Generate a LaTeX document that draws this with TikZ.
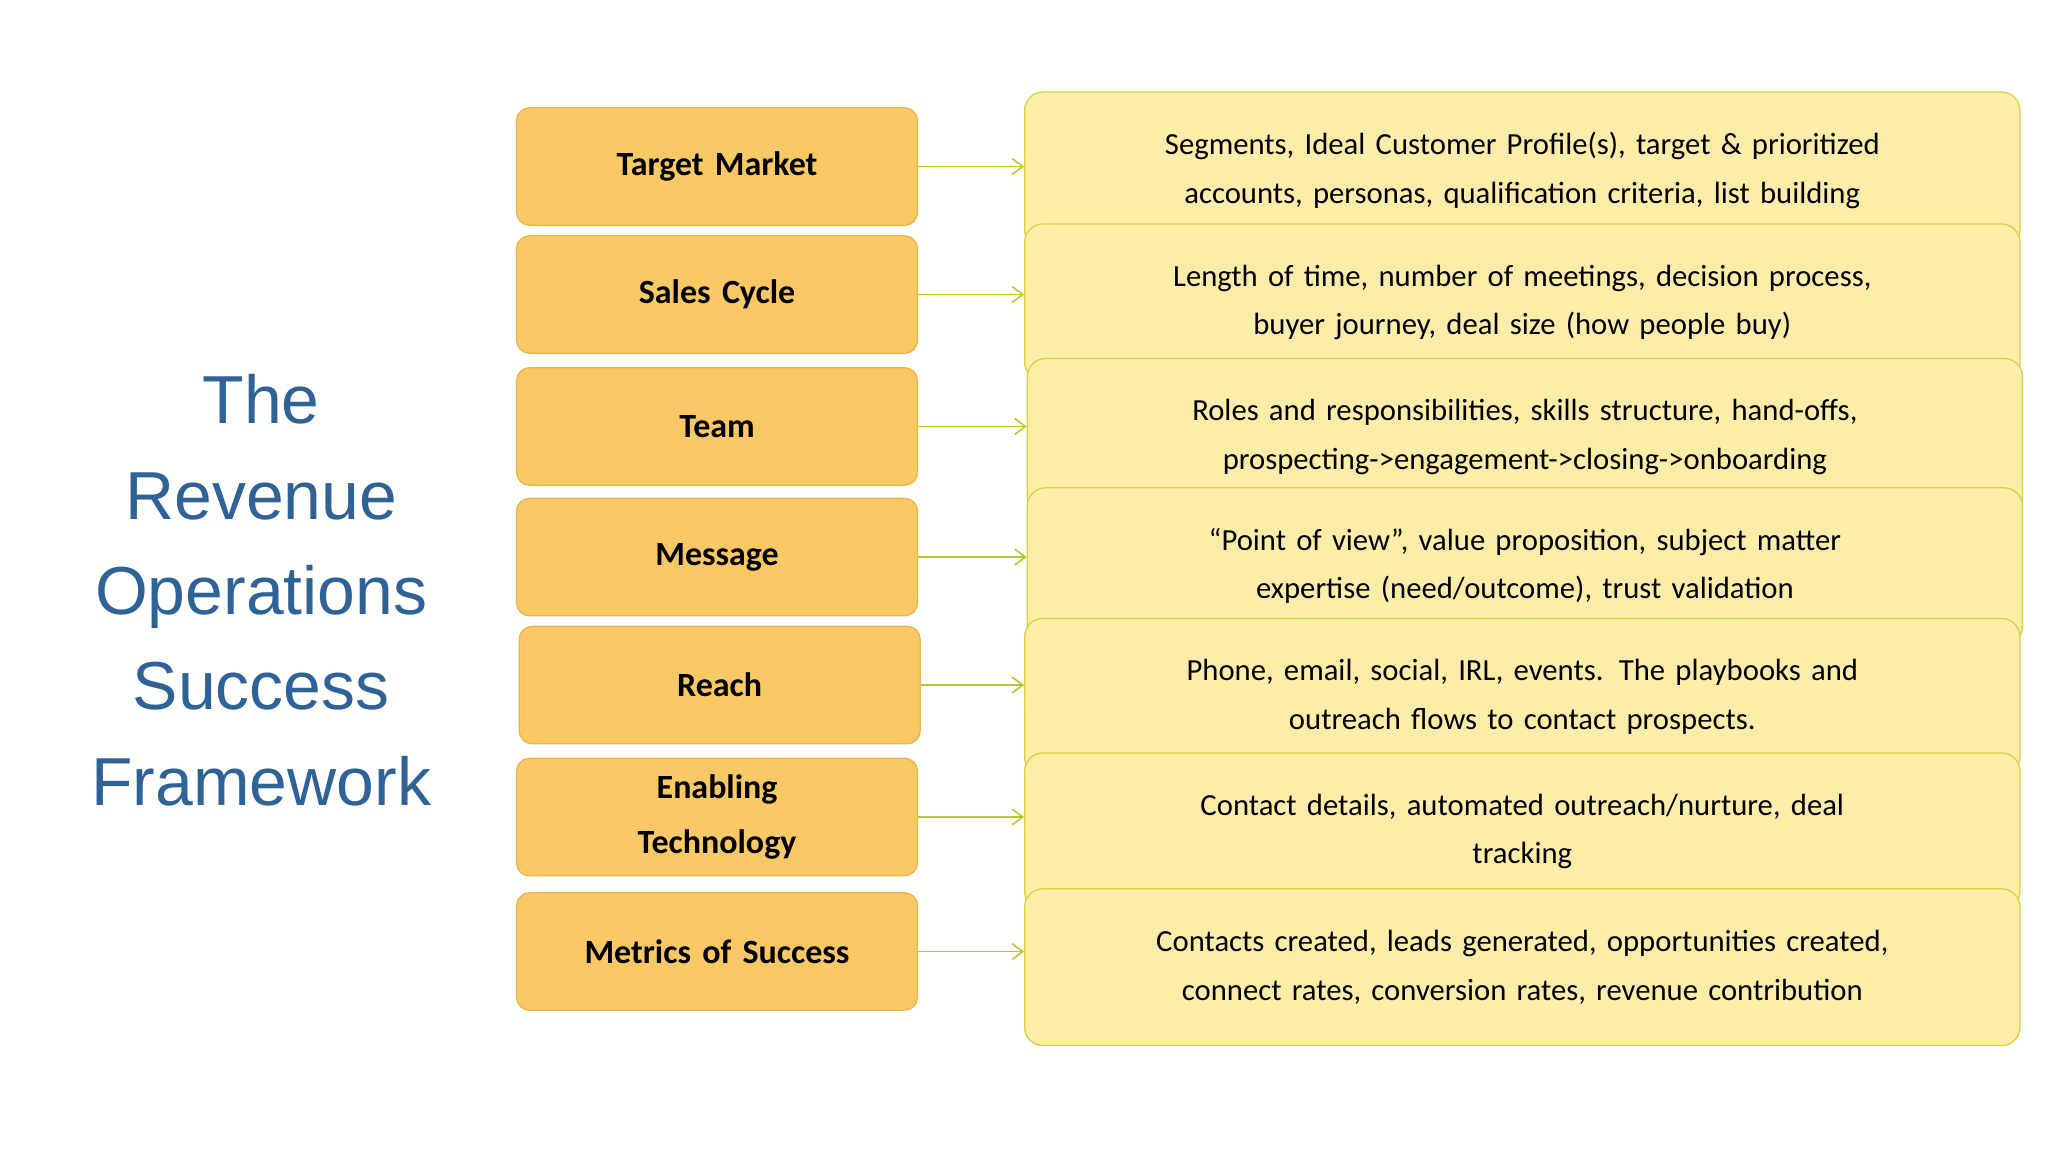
\documentclass[tikz,border=0pt]{standalone}
\usepackage{fontspec}
\usetikzlibrary{arrows.meta}
\setmainfont{Carlito}
\newfontfamily\titlefont{Liberation Sans}
\definecolor{lbfill}{HTML}{FAC864}
\definecolor{lbdraw}{HTML}{E6B84C}
\definecolor{rbfill}{HTML}{FDEDA8}
\definecolor{rbdraw}{HTML}{D2D24A}
\definecolor{arr}{HTML}{B8C62E}
\definecolor{ttl}{HTML}{2F6297}
\begin{document}
\begin{tikzpicture}[x=1pt,y=-1pt,
  lb/.style={draw=lbdraw,fill=lbfill,rounded corners=10pt,line width=1pt,anchor=north west,minimum width=307pt,minimum height=90pt,font=\fontsize{26}{30}\selectfont\bfseries,align=center,text width=290pt,inner sep=0pt},
  rb/.style={draw=rbdraw,fill=rbfill,rounded corners=14pt,line width=1pt,anchor=north west,minimum width=762pt,minimum height=120pt,font=\fontsize{23.5}{37}\selectfont,align=center,text width=740pt,inner sep=0pt},
  ar/.style={arr,line width=1.2pt,->,>={Straight Barb[length=8pt,width=12pt]}}]
\useasboundingbox (0,0) rectangle (1568,882);
\fill[white] (0,0) rectangle (1568,882);
\node[text=ttl,font=\titlefont\fontsize{52}{73}\selectfont,align=center] (title) at (200,452) {The\\Revenue\\Operations\\Success\\Framework};
% right boxes (drawn in order so later overlap earlier)
\node[rb] (r1) at (784,70) {Segments, Ideal Customer Profile(s), target \& prioritized\\accounts, personas, qualification criteria, list building};
\node[rb] (r2) at (784,171) {Length of time, number of meetings, decision process,\\buyer journey, deal size (how people buy)};
\node[rb] (r3) at (786,274) {Roles and responsibilities, skills structure, hand-offs,\\prospecting->engagement->closing->onboarding};
\node[rb] (r4) at (786,373) {“Point of view”, value proposition, subject matter\\expertise (need/outcome), trust validation};
\node[rb] (r5) at (784,473) {Phone, email, social, IRL, events. The playbooks and\\outreach flows to contact prospects.};
\node[rb] (r6) at (784,576) {Contact details, automated outreach/nurture, deal\\tracking};
\node[rb] (r7) at (784,680) {Contacts created, leads generated, opportunities created,\\connect rates, conversion rates, revenue contribution};
% left boxes
\node[lb] (l1) at (395,82) {Target Market};
\node[lb] (l2) at (395,180) {Sales Cycle};
\node[lb] (l3) at (395,281) {Team};
\node[lb] (l4) at (395,381) {Message};
\node[lb] (l5) at (397,479) {Reach};
\node[lb,font=\fontsize{26}{42}\selectfont\bfseries] (l6) at (395,580) {Enabling\\Technology};
\node[lb] (l7) at (395,683) {Metrics of Success};
\foreach \i in {1,...,7}{\draw[ar] (l\i.east) -- (l\i.east -| r\i.west);}
\end{tikzpicture}
\end{document}
